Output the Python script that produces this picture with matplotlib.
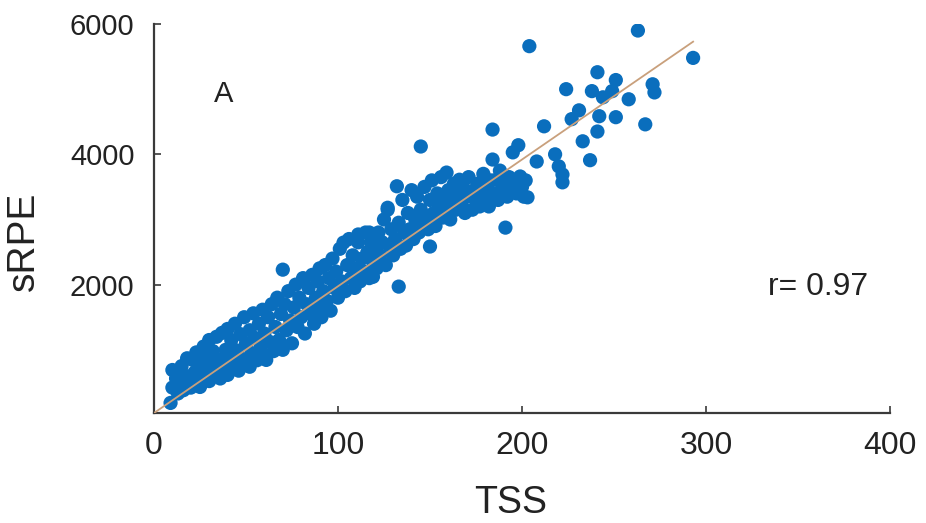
import numpy as np
import matplotlib.pyplot as plt
from matplotlib import font_manager

# TSS / sRPE values, grouped by TSS range
tss_a = [9, 10, 10, 12, 13, 14, 15, 16, 17, 18, 19, 20, 21, 22, 23, 24, 25, 26, 27, 28, 29, 30, 30, 31]
srpe_a = [185, 420, 690, 560, 330, 480, 750, 380, 600, 870, 500, 420, 845, 650, 960, 560, 430, 780, 1050, 620, 900, 520, 1150, 740]

tss_b = [32, 33, 34, 35, 36, 37, 38, 39, 40, 40, 41, 42, 43, 44, 45, 46, 47, 48, 49, 50, 51, 52, 52, 53,
         54, 55, 56, 57, 58, 59, 60, 60]
srpe_b = [980, 640, 1200, 850, 560, 1260, 720, 1000, 615, 1320, 880, 1150, 760, 1400, 990, 680, 1240, 860,
          1500, 1100, 760, 1300, 740, 950, 1560, 1180, 840, 1400, 1050, 1615, 900, 1250]

tss_c = [61, 62, 63, 64, 65, 66, 67, 68, 69, 70, 70, 71, 72, 73, 74, 75, 76, 77, 78, 79, 80, 81, 82, 83,
         84, 85, 86, 87, 88, 89, 90, 90]
srpe_c = [845, 1500, 1120, 1700, 980, 1350, 1800, 1150, 1550, 2230, 1000, 1700, 1300, 1900, 1450, 1100,
          1650, 2000, 1350, 1800, 1500, 2100, 1250, 1700, 1950, 1550, 2150, 1400, 1800, 2050, 1650, 2250]

tss_d = [91, 92, 93, 94, 95, 96, 97, 98, 99, 100, 101, 102, 103, 104, 105, 106, 107, 108, 109, 110, 111,
         111, 112, 113, 114, 115, 116, 117, 117, 118, 119, 119, 120]
srpe_d = [1500, 1900, 2300, 1750, 2100, 1600, 2400, 1950, 2200, 1800, 2550, 2050, 2645, 1900, 2300, 2700,
          2100, 2450, 1950, 2250, 2650, 2770, 2050, 2400, 2200, 2800, 2500, 2100, 2800, 2650, 2350, 2120, 2550]

tss_e = [121, 122, 123, 124, 125, 126, 127, 127, 128, 129, 130, 131, 132, 133, 133, 134, 135, 136, 137, 138,
         139, 140, 141, 142, 143, 144, 145, 145, 146, 147, 148, 149, 150, 150]
srpe_e = [2250, 2800, 2450, 2650, 3000, 2300, 3180, 3150, 2600, 2850, 2450, 2700, 3510, 1970, 2950, 2550,
          3300, 2800, 2600, 3100, 2850, 3450, 2700, 3000, 3350, 2800, 4120, 3150, 2950, 3500, 3050, 2850,
          3300, 2585]

tss_f = [151, 152, 153, 154, 155, 156, 157, 158, 159, 159, 160, 161, 162, 163, 164, 165, 166, 167, 168, 169,
         170, 171, 173, 174, 175, 176, 177, 178, 179, 180]
srpe_f = [3600, 3100, 2900, 3400, 3200, 3650, 3030, 3350, 3720, 3150, 3450, 3000, 3300, 3550, 3150, 3400,
          3610, 3250, 3500, 3100, 3350, 3650, 3150, 3450, 3300, 3550, 3200, 3400, 3700, 3300]

tss_g = [181, 182, 183, 184, 184, 185, 186, 187, 188, 189, 190, 191, 192, 193, 194, 195, 196, 197, 198, 199,
         200, 201, 202, 203, 204]
srpe_g = [3500, 3200, 3600, 4380, 3920, 3400, 3610, 3300, 3750, 3450, 3550, 2875, 3350, 3650, 3450, 4030,
          3550, 3400, 4140, 3660, 3500, 3350, 3600, 3340, 5660]

tss_h = [208, 212, 218, 220, 222, 222, 224, 227, 231, 233, 237, 238, 241, 241, 242, 244, 249, 251, 251, 258,
         263, 267, 271, 272, 293]
srpe_h = [3890, 4430, 4000, 3815, 3690, 3570, 5000, 4540, 4675, 4200, 3910, 4970, 5260, 4350, 4585, 4875,
          4970, 5140, 4570, 4845, 5900, 4460, 5075, 4950, 5480]

# fitted line as drawn in the reference (intercept, slope)
fit_a = 30
fit_b = 19.45

tss = np.array(tss_a + tss_b + tss_c + tss_d + tss_e + tss_f + tss_g + tss_h, dtype=float)
srpe = np.array(srpe_a + srpe_b + srpe_c + srpe_d + srpe_e + srpe_f + srpe_g + srpe_h, dtype=float)

names = {f.name for f in font_manager.fontManager.ttflist}
narrow = 'Liberation Sans Narrow' if 'Liberation Sans Narrow' in names else 'Liberation Sans'

plt.rcParams['font.family'] = ['Liberation Sans', 'DejaVu Sans']

fig = plt.figure(figsize=(9.26, 5.23), dpi=100)
ax = fig.add_axes([0.1663, 0.2103, 0.7948, 0.7438])

ax.scatter(tss, srpe, s=105, color='#0a6ebd', edgecolors='none', zorder=2)

xl = np.array([0, tss.max()])
ax.plot(xl, fit_a + fit_b * xl, color='#c9a07c', lw=1.3, zorder=3)

ax.set_xlim(0, 400)
ax.set_ylim(30, 6000)
ax.set_xticks([0, 100, 200, 300, 400])
ax.set_yticks([2000, 4000, 6000])

for s in ['top', 'right']:
    ax.spines[s].set_visible(False)
for s in ['left', 'bottom']:
    ax.spines[s].set_color('#3a3a3a')
    ax.spines[s].set_linewidth(1.6)

ax.tick_params(direction='in', length=5, width=1.2, color='#3a3a3a', labelcolor='#222222')
xsize = 26 if narrow != 'Liberation Sans' else 23
ax.tick_params(axis='x', pad=13, labelsize=xsize, labelfontfamily=narrow)
ax.tick_params(axis='y', pad=14, labelsize=21)

ax.set_xlabel('TSS', fontsize=27, color='#222222')
ax.set_ylabel('sRPE', fontsize=28, color='#222222')
ax.xaxis.set_label_coords(0.485, -0.185)
ax.yaxis.set_label_coords(-0.152, 0.442)

ax.text(38, 4930, 'A', fontsize=21, fontfamily=narrow, color='#222222',
        ha='center', va='center')
ax.text(361, 1970, 'r= 0.97', fontsize=xsize, fontfamily=narrow, color='#222222',
        ha='center', va='center')

fig.savefig('out.png', dpi=100)
